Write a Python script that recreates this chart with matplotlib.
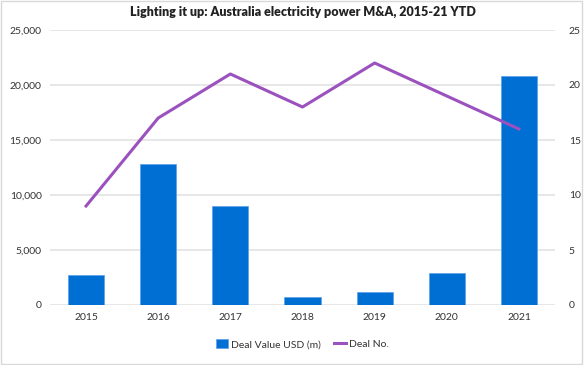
import matplotlib
matplotlib.use("Agg")
import matplotlib.pyplot as plt
from matplotlib.ticker import FuncFormatter, MultipleLocator
from matplotlib.patches import Rectangle

years = ["2015", "2016", "2017", "2018", "2019", "2020", "2021"]
deal_value = [2700, 12800, 9000, 700, 1200, 2900, 20800]
deal_no = [9, 17, 21, 18, 22, 19, 16]

plt.rcParams['font.family'] = ['Lato', 'DejaVu Sans']
bar_color = "#006FD4"
line_color = "#9B51BE"
text_color = "#333333"

fig = plt.figure(figsize=(5.87, 3.65), dpi=100)
ax = fig.add_axes([50/587, 1-305/365, 505/587, 275/365])
ax2 = ax.twinx()

x = list(range(len(years)))
ax.bar(x, deal_value, width=0.5, color=bar_color, edgecolor="#5AA0E8", linewidth=0.5,
       label="Deal Value USD (m)", zorder=2)
ax2.plot(x, deal_no, color=line_color, linewidth=2.2, label="Deal No.", zorder=3)

ax.set_xlim(-0.5, len(years) - 0.5)
ax.set_ylim(0, 25000)
ax2.set_ylim(0, 25)
ax.yaxis.set_major_locator(MultipleLocator(5000))
ax2.yaxis.set_major_locator(MultipleLocator(5))
ax.yaxis.set_major_formatter(FuncFormatter(lambda v, p: f"{int(v):,}"))
ax.set_xticks(x)
ax.set_xticklabels(years)

ax.grid(axis='y', color="#E3E3E3", linewidth=1.2, zorder=0)
ax.set_axisbelow(True)
for a in (ax, ax2):
    for s in a.spines.values():
        s.set_visible(False)
    a.tick_params(length=0, labelsize=7.5, colors=text_color)
ax.tick_params(axis='y', pad=6)
ax2.tick_params(axis='y', pad=10)
ax.tick_params(axis='x', pad=6)

ax.set_title("Lighting it up: Australia electricity power M&A, 2015-21 YTD",
             fontsize=9, fontweight='heavy', color="#222222", pad=10)

h1, l1 = ax.get_legend_handles_labels()
h2, l2 = ax2.get_legend_handles_labels()
fig.legend(h1 + h2, l1 + l2, loc='center', bbox_to_anchor=(0.515, 1-344/365),
           ncol=2, frameon=False, fontsize=7.5, handlelength=1.2, handleheight=1.0,
           columnspacing=1.2, handletextpad=0.3, labelcolor=text_color)

fig.patches.append(Rectangle((0.002, 0.003), 0.99, 0.994, transform=fig.transFigure,
                             fill=False, edgecolor="#D9D9D9", linewidth=1.0))

fig.savefig("out.png", dpi=100, facecolor="white")
